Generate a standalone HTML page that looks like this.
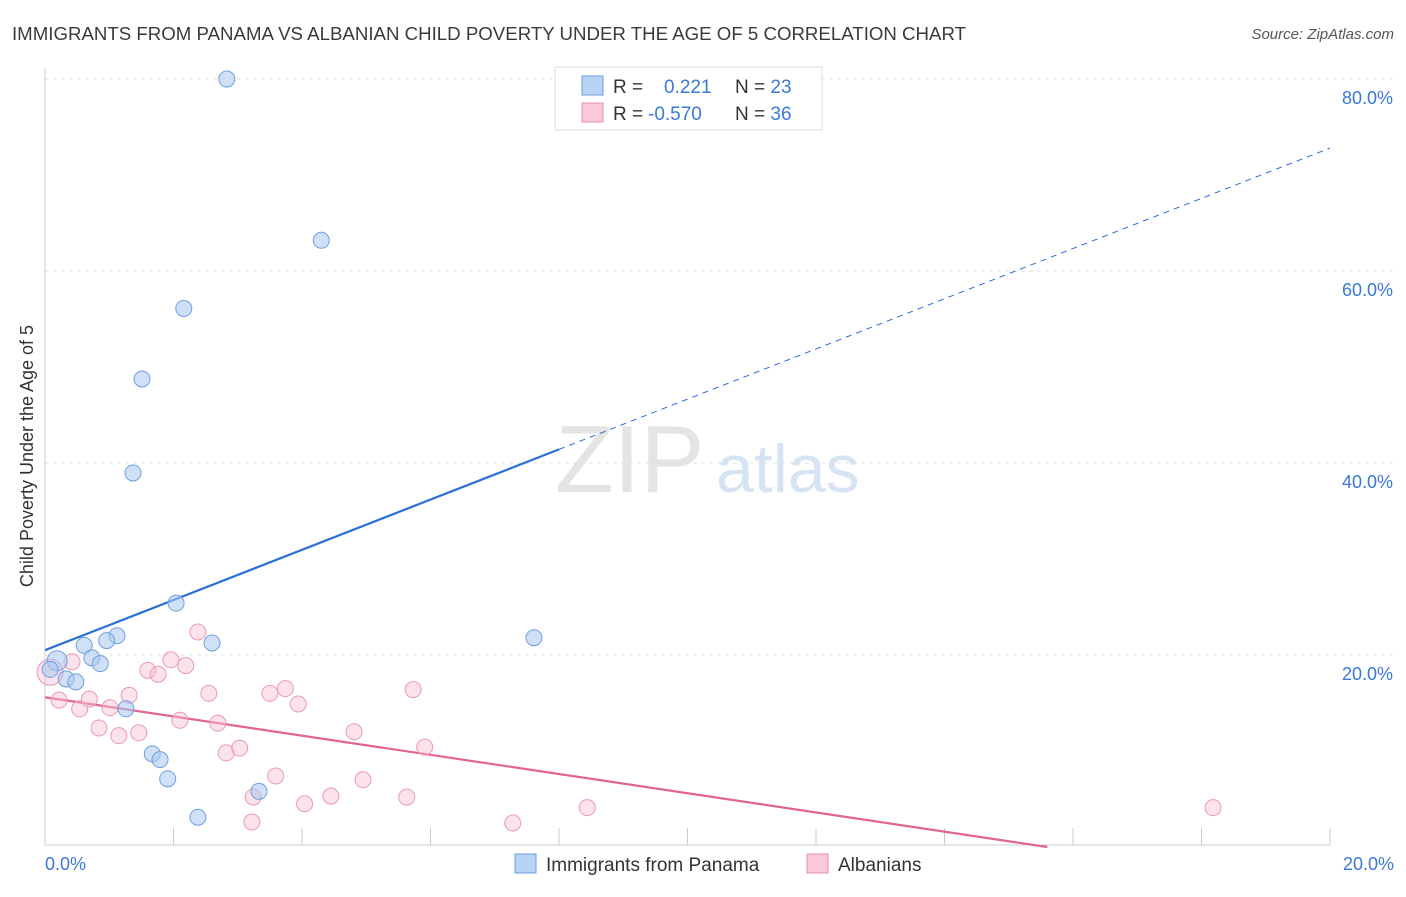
<!DOCTYPE html>
<html><head><meta charset="utf-8"><style>
body{margin:0;background:#fff;font-family:"Liberation Sans",sans-serif}
svg text{font-family:"Liberation Sans",sans-serif}
</style></head><body>
<svg id="chart" width="1406" height="892">
<text x="12" y="40" font-size="18" fill="#3a3a3a" textLength="954" lengthAdjust="spacingAndGlyphs">IMMIGRANTS FROM PANAMA VS ALBANIAN CHILD POVERTY UNDER THE AGE OF 5 CORRELATION CHART</text>
<text x="1394" y="39" font-size="15" fill="#555" text-anchor="end" font-style="italic">Source: ZipAtlas.com</text>
<text transform="translate(33,456) rotate(-90)" font-size="18" fill="#333" text-anchor="middle">Child Poverty Under the Age of 5</text>
<g id="grid"></g><g id="xticks"></g><g id="ylabels"></g>
<text x="555" y="492" font-size="96" fill="#e4e4e4" font-family="Liberation Serif">ZIP</text>
<text x="716" y="492" font-size="68" fill="#d6e3f3">atlas</text>
<g id="trend"></g><g id="pts"></g>
<text x="45" y="870" font-size="18" fill="#3b78d8">0.0%</text>
<text x="1394" y="870" font-size="18" fill="#3b78d8" text-anchor="end">20.0%</text>
<g>
<rect x="555" y="67" width="267" height="63" fill="#fff" stroke="#ddd"/>
<rect x="582" y="76" width="21" height="19" fill="#b9d3f5" stroke="#6a9be0"/>
<rect x="582" y="103" width="21" height="19" fill="#f9c9d8" stroke="#ea90ac"/>
<text x="613" y="93" font-size="19" fill="#333">R = <tspan fill="#3b78d8" x="664">0.221</tspan><tspan fill="#333" x="735">N = </tspan><tspan fill="#3b78d8">23</tspan></text>
<text x="613" y="120" font-size="19" fill="#333">R = <tspan fill="#3b78d8" x="648">-0.570</tspan><tspan fill="#333" x="735">N = </tspan><tspan fill="#3b78d8">36</tspan></text>
</g>
<g>
<rect x="515" y="854" width="21" height="19" fill="#b9d3f5" stroke="#6a9be0"/>
<text x="546" y="871" font-size="19" fill="#333">Immigrants from Panama</text>
<rect x="807" y="854" width="21" height="19" fill="#f9c9d8" stroke="#ea90ac"/>
<text x="838" y="871" font-size="19" fill="#333">Albanians</text>
</g>
</svg>
<script>
const yTicks=[20,40,60,80];
const xTicksVals=[0,2,4,6,8,10,12,14,16,18,20];
const blueX=[2.83,4.30,2.16,1.51,1.37,2.04,1.12,0.96,0.61,2.60,7.61,0.19,0.73,0.86,0.33,0.48,1.26,1.67,1.79,1.91,3.33,2.38,0.08];
const blueY=[80,63.2,56.1,48.75,38.96,25.4,22,21.5,21.0,21.25,21.8,19.4,19.7,19.1,17.5,17.2,14.4,9.7,9.1,7.1,5.8,3.1,18.5];
const pinkX=[0.08,0.42,0.22,0.54,0.69,0.84,1.01,1.15,1.31,1.46,1.60,1.76,1.96,2.19,2.38,2.10,2.55,2.69,2.82,3.03,3.24,3.22,3.50,3.74,3.94,3.59,4.04,4.45,4.81,4.95,5.63,5.73,5.91,7.28,8.44,18.18];
const pinkY=[18.2,19.3,15.3,14.4,15.4,12.4,14.5,11.6,15.8,11.9,18.4,18.0,19.5,18.9,22.4,13.2,16.0,12.9,9.8,10.3,5.2,2.6,16.0,16.5,14.9,7.4,4.5,5.3,12.0,7.0,5.2,16.4,10.4,2.5,4.1,4.1];
const blueTrend=[20.5,72.8];
const blueSolidEnd=8.0;
const pinkTrend=[15.6,-1.0];
const sx=v=>45+v*64.25, sy=v=>847-v*9.6;
const NS="http://www.w3.org/2000/svg";
function mk(p,t,a){const e=document.createElementNS(NS,t);for(const k in a)e.setAttribute(k,a[k]);p.appendChild(e);return e;}
const grid=document.getElementById('grid'),yl=document.getElementById('ylabels'),xt=document.getElementById('xticks');
yTicks.forEach(v=>{const l=mk(grid,'line',{x1:45,x2:1394,y1:sy(v),y2:sy(v),stroke:'#e2e2e2','stroke-dasharray':'4,4'});


const t=mk(yl,'text',{x:1393,y:sy(v)+25,'font-size':18,fill:'#3b78d8','text-anchor':'end'});t.textContent=v.toFixed(1)+'%';

});
const ax=mk(xt,'line',{x1:45,x2:1330,y1:845,y2:845,stroke:'#ccc'});


const ayl=mk(xt,'line',{x1:45,x2:45,y1:68,y2:845,stroke:'#ccc'});


xTicksVals.forEach(v=>{const l=mk(xt,'line',{x1:sx(v),x2:sx(v),y1:828,y2:845,stroke:'#ccc'});

});
const tr=document.getElementById('trend');
const by=x=>blueTrend[0]+(blueTrend[1]-blueTrend[0])*x/20;
let l1=mk(tr,'line',{x1:sx(0),y1:sy(by(0)),x2:sx(blueSolidEnd),y2:sy(by(blueSolidEnd)),stroke:'#2a6fd6','stroke-width':2.2});


let l2=mk(tr,'line',{x1:sx(blueSolidEnd),y1:sy(by(blueSolidEnd)),x2:sx(20),y2:sy(by(20)),stroke:'#2a6fd6','stroke-width':1,'stroke-dasharray':'6,5'});


const xz=-pinkTrend[0]/pinkTrend[1];
let l3=mk(tr,'line',{x1:sx(0),y1:sy(pinkTrend[0]),x2:sx(xz),y2:sy(0),stroke:'#e2648f','stroke-width':2.2});


const pts=document.getElementById('pts');
pinkX.forEach((x,i)=>{const c=mk(pts,'circle',{cx:sx(x),cy:sy(pinkY[i]),r:i==0?13:8,fill:'rgba(248,190,210,0.45)',stroke:'#eb9ab5','stroke-width':1});

});
blueX.forEach((x,i)=>{const c=mk(pts,'circle',{cx:sx(x),cy:sy(blueY[i]),r:(i==11?10:8),fill:'rgba(170,200,240,0.55)',stroke:'#6f9fe0','stroke-width':1});

});
</script>
</body></html>
